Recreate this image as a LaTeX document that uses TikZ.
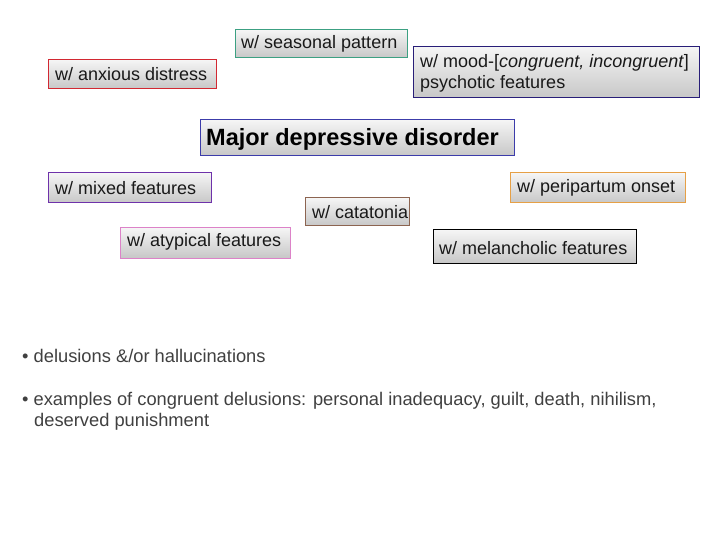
\documentclass[tikz,border=0pt]{standalone}
\usepackage{fontspec}
\setmainfont{Liberation Sans}
\definecolor{cteal}{RGB}{60,160,130}
\definecolor{cred}{RGB}{210,40,50}
\definecolor{cnavy}{RGB}{40,30,120}
\definecolor{cblue}{RGB}{60,60,170}
\definecolor{cviolet}{RGB}{110,50,170}
\definecolor{cbrown}{RGB}{140,100,80}
\definecolor{cpink}{RGB}{220,130,200}
\definecolor{corange}{RGB}{230,160,70}
\begin{document}
\begin{tikzpicture}[x=1pt,y=-1pt,
  bx/.style={draw=#1, line width=1pt, top color=white!92!gray, bottom color=black!22},
  tx/.style={anchor=west, inner sep=0pt, font=\fontsize{18}{21}\selectfont, text=black!90}]
\useasboundingbox (0,0) rectangle (720,540);
\newcommand\mybox[5]{\path[bx=#5] (#1,#2) rectangle (#3,#4);}
\mybox{235}{30}{407}{58}{cteal}
\node[tx] (sp) at (241,44) {w/ seasonal pattern};
\mybox{48}{60}{216}{89}{cred}
\node[tx] (ad) at (55,74) {w/ anxious distress};
\mybox{413}{47}{699}{98}{cnavy}
\node[anchor=north west, align=left, inner sep=0pt, font=\fontsize{18}{21}\selectfont, text=black!90] (mo) at (420,54) {w/ mood-[\textit{congruent, incongruent}]\\psychotic features};
\mybox{200}{120}{514}{156}{cblue}
\node[anchor=west, inner sep=0pt, font=\bfseries\fontsize{23.5}{27}\selectfont] (mdd) at (206,139) {Major depressive disorder};
\mybox{48}{173}{211}{203}{cviolet}
\node[tx] (mf) at (55,188) {w/ mixed features};
\mybox{305}{198}{409}{226}{cbrown}
\node[tx] (ct) at (312,212) {w/ catatonia};
\mybox{120}{228}{290}{258}{cpink}
\node[tx] (at) at (127,242) {w/ atypical features};
\mybox{510}{173}{685}{203}{corange}
\node[tx] (pp) at (517,188) {w/ peripartum onset};
\mybox{433}{230}{636}{263}{black}
\node[tx] (ml) at (439,248) {w/ melancholic features};
\node[anchor=west, inner sep=0pt, font=\fontsize{18.3}{21}\selectfont, text=black!75] (b1) at (22,356) {• delusions \&/or hallucinations};
\node[anchor=north west, align=left, inner sep=0pt, font=\fontsize{18.3}{21}\selectfont, text=black!75] (b2) at (22,392) {• examples of congruent delusions: personal inadequacy, guilt, death, nihilism,\\\hspace*{12pt}deserved punishment};
\end{tikzpicture}
\end{document}
